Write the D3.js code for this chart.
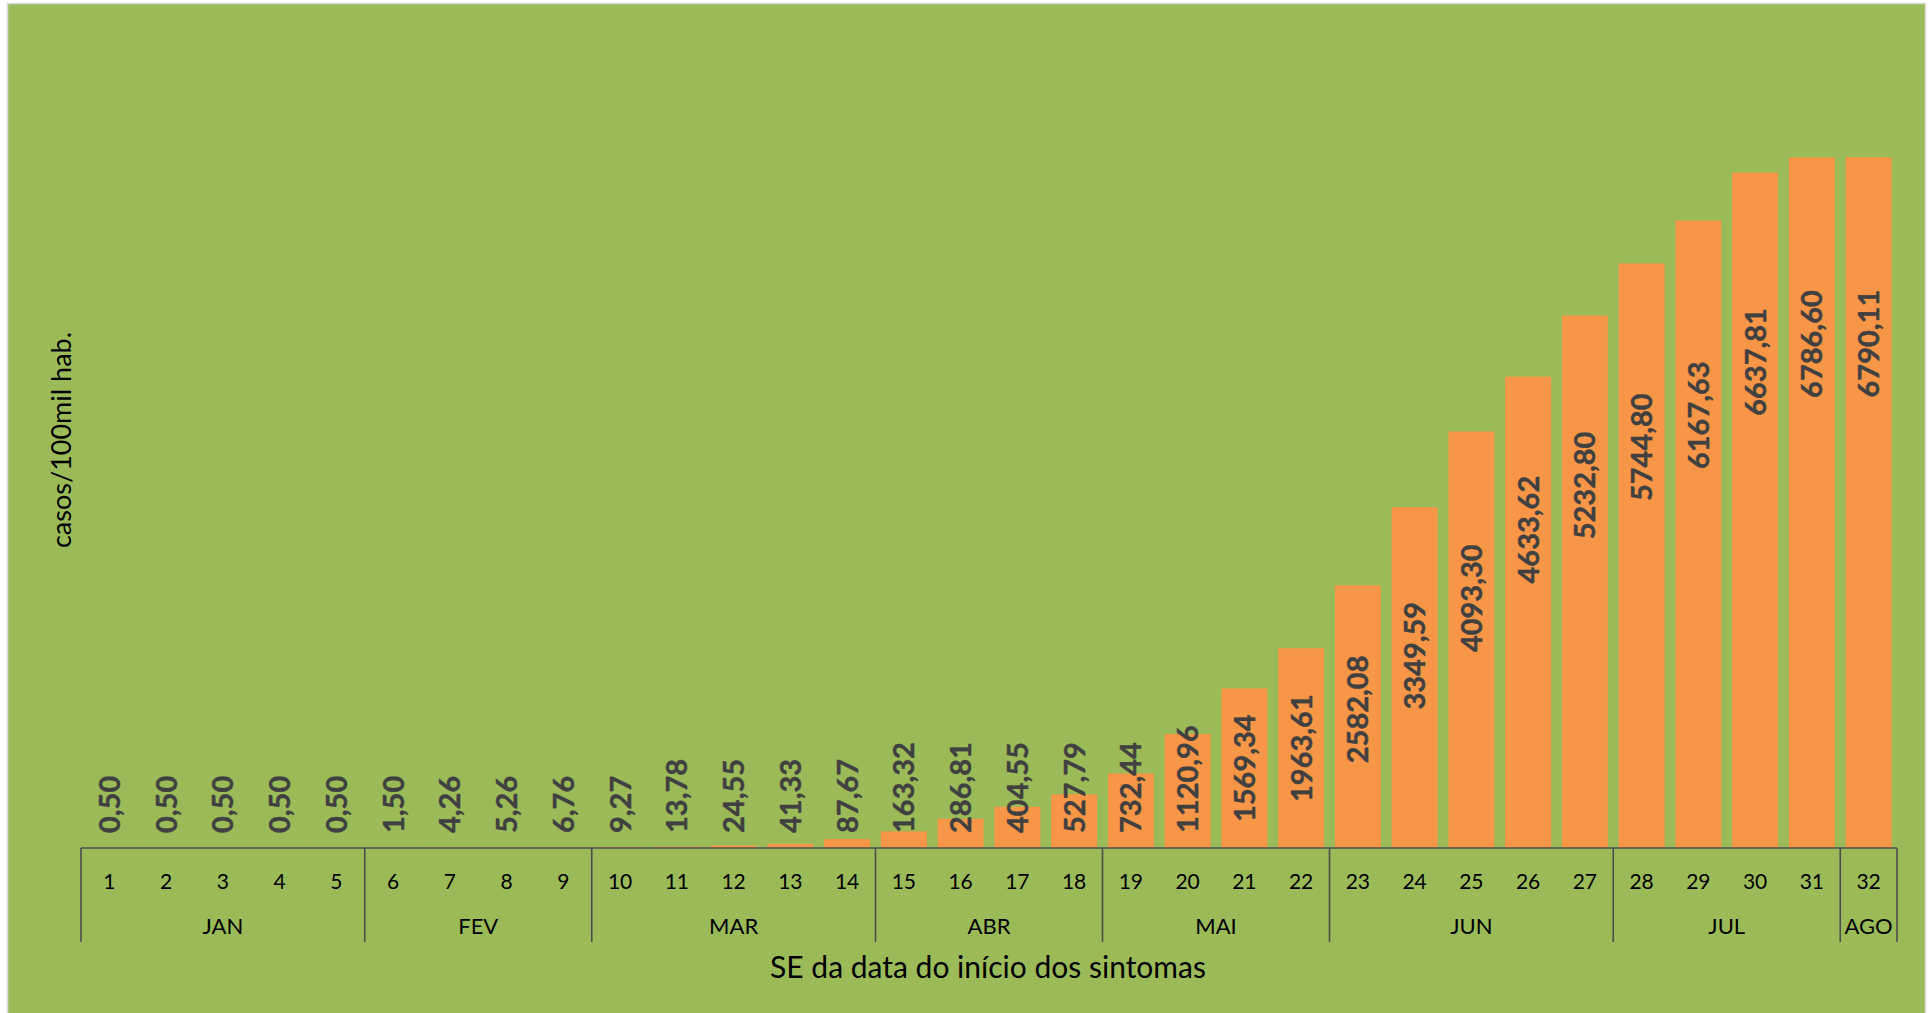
<!DOCTYPE html>
<html>
<head>
<meta charset="utf-8">
<script src="https://cdn.jsdelivr.net/npm/d3@7"></script>
<style>
  html, body { margin: 0; padding: 0; background: #ffffff; }
  svg { display: block; }
</style>
</head>
<body>
<svg id="chart" width="1930" height="1013"></svg>
<script>
// ---- data ----
const weeks = ["1","2","3","4","5","6","7","8","9","10","11","12","13","14","15","16",
               "17","18","19","20","21","22","23","24","25","26","27","28","29","30","31","32"];
const values = [0.50, 0.50, 0.50, 0.50, 0.50, 1.50, 4.26, 5.26, 6.76, 9.27, 13.78, 24.55,
                41.33, 87.67, 163.32, 286.81, 404.55, 527.79, 732.44, 1120.96, 1569.34, 1963.61,
                2582.08, 3349.59, 4093.30, 4633.62, 5232.80, 5744.80, 6167.63, 6637.81, 6786.60, 6790.11];
const months = ["JAN", "FEV", "MAR", "ABR", "MAI", "JUN", "JUL", "AGO"];
const weeksPerMonth = [5, 4, 5, 4, 4, 5, 4, 1];
const yTitle = "casos/100mil hab.";
const xTitle = "SE da data do início dos sintomas";

(function () {
// ---- layout ----
const plotLeft = 81, plotRight = 1897, axisY = 848, plotTop = 34;
const svg = d3.select("#chart");
const fontFamily = "Lato, 'Open Sans', sans-serif";

svg.append("rect")
  .attr("x", 7.5).attr("y", 3.5)
  .attr("width", 1918).attr("height", 1012)
  .attr("fill", "#9BBB59")
  .attr("stroke", "#d9d9d9").attr("stroke-width", 1.5);

const pad = 0.19;
const x = d3.scaleBand().domain(weeks).range([plotLeft, plotRight])
  .paddingInner(pad).paddingOuter(pad / 2);
const y = d3.scaleLinear().domain([0, 8000]).range([axisY, plotTop]);

const data = weeks.map((w, i) => ({ week: w, value: values[i] }));

// bars
svg.append("g").selectAll("rect").data(data).join("rect")
  .attr("x", d => x(d.week))
  .attr("y", d => y(d.value))
  .attr("width", x.bandwidth())
  .attr("height", d => y(0) - y(d.value))
  .attr("fill", "#F79646");

// axis line + week labels
const axisColor = "#4d4d4d";
svg.append("line")
  .attr("x1", plotLeft).attr("x2", plotRight)
  .attr("y1", axisY).attr("y2", axisY)
  .attr("stroke", axisColor).attr("stroke-width", 1.6);

svg.append("g").selectAll("text").data(weeks).join("text")
  .attr("x", d => x(d) + x.bandwidth() / 2)
  .attr("y", 880)
  .attr("text-anchor", "middle")
  .attr("dominant-baseline", "central")
  .attr("font-family", fontFamily)
  .attr("font-size", 21)
  .attr("fill", "#000")
  .text(d => d);

// month groups
const step = x.step();
let acc = 0;
const groups = months.map((m, i) => {
  const start = acc; acc += weeksPerMonth[i];
  return { name: m, start, end: acc };
});
const bx = k => plotLeft + k * step;
const bounds = [0].concat(groups.map(g => g.end));
svg.append("g").selectAll("line").data(bounds).join("line")
  .attr("x1", k => bx(k)).attr("x2", k => bx(k))
  .attr("y1", axisY).attr("y2", 942)
  .attr("stroke", axisColor).attr("stroke-width", 1.6);

svg.append("g").selectAll("text").data(groups).join("text")
  .attr("x", g => (bx(g.start) + bx(g.end)) / 2)
  .attr("y", 925)
  .attr("text-anchor", "middle")
  .attr("dominant-baseline", "central")
  .attr("font-family", fontFamily)
  .attr("font-size", 22)
  .attr("fill", "#000")
  .text(g => g.name);

// value labels (centred inside tall bars, sitting above the axis for short ones)
const locale = d3.formatLocale({ decimal: ",", thousands: "", grouping: [3], currency: ["", ""] });
const fmt = locale.format(".2f");
const labelShift = d3.scaleLinear()
  .domain([2000, 4100, 4600, 6200, 6790])
  .range([0.5, 0.6, 0.675, 0.69, 0.73])
  .clamp(true);
const labels = svg.append("g").selectAll("text").data(data).join("text")
  .attr("font-family", fontFamily)
  .attr("font-weight", "bold")
  .attr("font-size", 29)
  .attr("fill", "#404040")
  .attr("stroke", "#404040")
  .attr("stroke-width", 0.4)
  .attr("text-anchor", "start")
  .attr("dy", "0.36em")
  .text(d => fmt(d.value));

labels.each(function (d) {
  const L = this.getComputedTextLength();
  const yc = y(d.value * labelShift(d.value));
  const bottom = Math.min(y(0) - 15, yc + L / 2);
  const cx = x(d.week) + x.bandwidth() / 2;
  d3.select(this).attr("transform", `translate(${cx},${bottom}) rotate(-90)`);
});

// titles
svg.append("text")
  .attr("transform", `translate(60,440) rotate(-90)`)
  .attr("text-anchor", "middle")
  .attr("dominant-baseline", "central")
  .attr("font-family", fontFamily)
  .attr("font-size", 27)
  .attr("fill", "#000")
  .text(yTitle);

svg.append("text")
  .attr("x", 988).attr("y", 966)
  .attr("text-anchor", "middle")
  .attr("dominant-baseline", "central")
  .attr("font-family", fontFamily)
  .attr("font-size", 30)
  .attr("fill", "#000")
  .text(xTitle);
})();
</script>
</body>
</html>
